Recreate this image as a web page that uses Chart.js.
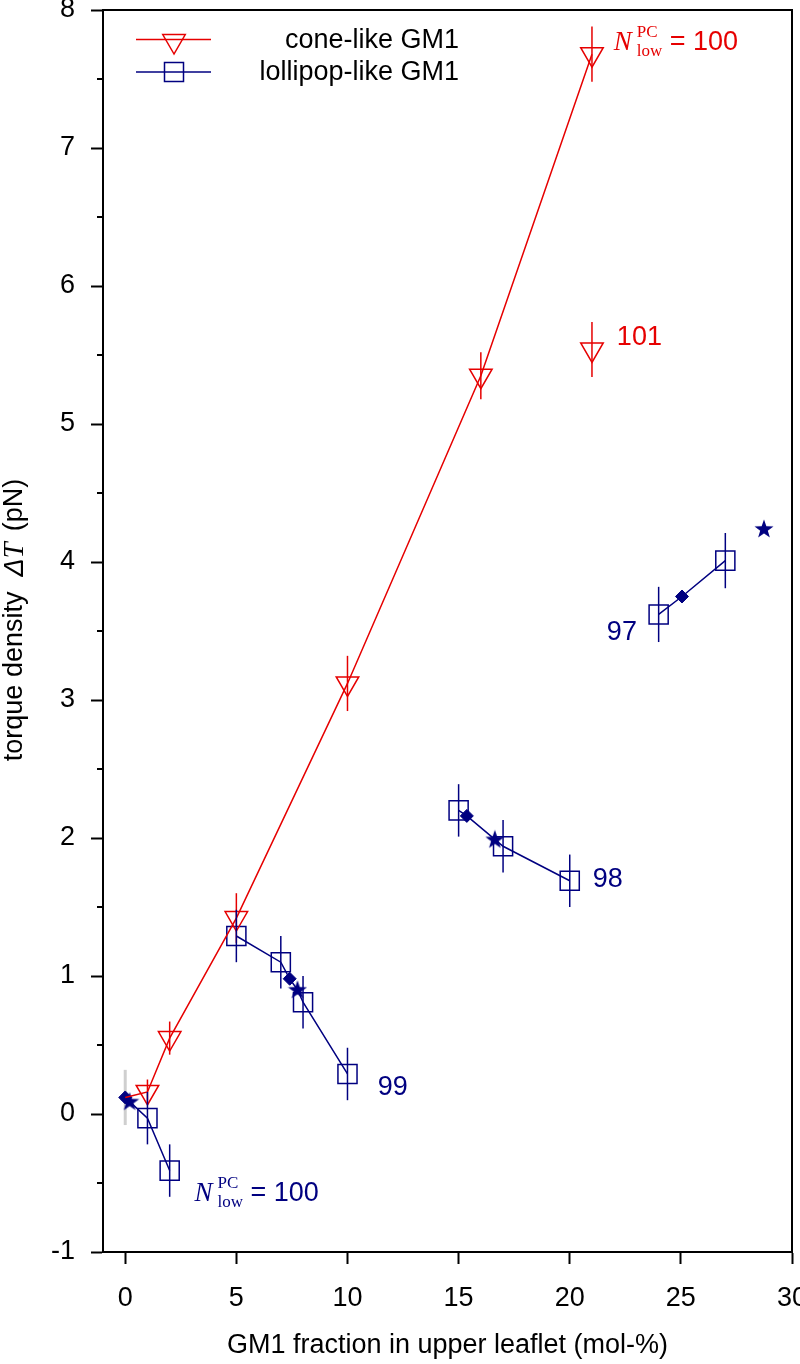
<!DOCTYPE html>
<html>
<head>
<meta charset="utf-8">
<script src="https://cdn.jsdelivr.net/npm/chart.js@4.4.0/dist/chart.umd.min.js"></script>
<style>
  html, body { margin: 0; padding: 0; background: #fff; }
</style>
</head>
<body>
<canvas id="torqueChart" width="800" height="1364"></canvas>
<script>
// values (x: GM1 mol-%, y: torque density pN)
const coneX = [0, 1, 2, 5, 10, 16, 21];
const coneY = [0.12, 0.16, 0.55, 1.42, 3.12, 5.35, 7.68];
const coneErr = [0, 0.09, 0.12, 0.18, 0.2, 0.17, 0.2];

const cone101X = [21];
const cone101Y = [5.54];
const cone101Err = [0.2];

const grayX = [0];
const grayY = [0.12];
const grayErr = [0.2];

const lolli100X = [0, 0.2, 1, 2];
const lolli100Y = [0.12, 0.09, -0.03, -0.41];
const lolli100Err = [0, 0, 0.19, 0.19];
const lolli100Mark = ['diamond', 'star', 'square', 'square'];

const lolli99X = [5, 7, 7.4, 7.75, 8, 10];
const lolli99Y = [1.29, 1.10, 0.98, 0.90, 0.81, 0.29];
const lolli99Err = [0.19, 0.19, 0, 0, 0.19, 0.19];
const lolli99Mark = ['square', 'square', 'diamond', 'star', 'square', 'square'];

const lolli98X = [15, 15.37, 16.63, 17, 20];
const lolli98Y = [2.20, 2.16, 1.99, 1.94, 1.69];
const lolli98Err = [0.19, 0, 0, 0.19, 0.19];
const lolli98Mark = ['square', 'diamond', 'star', 'square', 'square'];

const lolli97X = [24, 25.05, 27];
const lolli97Y = [3.62, 3.75, 4.01];
const lolli97Err = [0.2, 0, 0.2];
const lolli97Mark = ['square', 'diamond', 'square'];

const starX = [28.74];
const starY = [4.24];

const xTickValues = [0, 5, 10, 15, 20, 25, 30];
const yTickValues = [-1, 0, 1, 2, 3, 4, 5, 6, 7, 8];
const yMinorValues = [-0.5, 0.5, 1.5, 2.5, 3.5, 4.5, 5.5, 6.5, 7.5];

const legendLabels = ['cone-like GM1', 'lollipop-like GM1'];
const noteLabels = ['101', '99', '98', '97'];
const noteX = [22.12, 11.36, 21.04, 21.67];
const noteY = [5.63, 0.19, 1.70, 3.49];

const RED = '#e60000';
const NAVY = '#000080';
const SANS = '"Liberation Sans", Arial, sans-serif';
const SERIF = '"Liberation Serif", "Times New Roman", serif';

function pts(xs, ys) {
  return xs.map((x, i) => ({ x: x, y: ys[i] }));
}

function makeStar(size, color) {
  const c = document.createElement('canvas');
  c.width = c.height = size;
  const g = c.getContext('2d');
  const r = size / 2, ri = r * 0.4;
  g.beginPath();
  for (let k = 0; k < 10; k++) {
    const rad = k % 2 ? ri : r;
    const a = -Math.PI / 2 + k * Math.PI / 5;
    g.lineTo(r + rad * Math.cos(a), r * 1.05 + rad * Math.sin(a));
  }
  g.closePath();
  g.fillStyle = color;
  g.fill();
  return c;
}
const starImg = makeStar(20, NAVY);

// square -> hollow rect, diamond -> filled rectRot, star -> filled star image
function lolliSet(xs, ys, errs, marks) {
  return {
    data: pts(xs, ys),
    errors: errs,
    borderColor: NAVY,
    borderWidth: 1.5,
    showLine: true,
    pointStyle: marks.map(m => m === 'square' ? 'rect' : m === 'diamond' ? 'rectRot' : starImg),
    pointRadius: marks.map(m => m === 'square' ? 13.5 : m === 'diamond' ? 6.5 : 10),
    pointBorderWidth: marks.map(m => m === 'square' ? 1.5 : 1),
    pointBorderColor: NAVY,
    pointBackgroundColor: marks.map(m => m === 'square' ? 'rgba(0,0,0,0)' : NAVY)
  };
}

function drawErrors(chart, behind) {
  const ctx = chart.ctx;
  const ys = chart.scales.y;
  chart.data.datasets.forEach((ds, i) => {
    if (!ds.errors || !!ds.errorBehind !== behind) return;
    const meta = chart.getDatasetMeta(i);
    ctx.save();
    ctx.strokeStyle = ds.errorColor || ds.borderColor;
    ctx.lineWidth = ds.errorWidth || 1.5;
    meta.data.forEach((pt, j) => {
      const e = ds.errors[j];
      if (!e) return;
      const v = ds.data[j].y;
      ctx.beginPath();
      ctx.moveTo(pt.x, ys.getPixelForValue(v + e));
      ctx.lineTo(pt.x, ys.getPixelForValue(v - e));
      ctx.stroke();
    });
    ctx.restore();
  });
}

const errorBars = {
  id: 'errorBars',
  beforeDatasetsDraw(chart) { drawErrors(chart, true); },
  afterDatasetsDraw(chart) { drawErrors(chart, false); }
};

function triangleDown(ctx, x, y, r) {
  ctx.beginPath();
  ctx.moveTo(x, y + r);
  ctx.lineTo(x - r * 0.866, y - r * 0.5);
  ctx.lineTo(x + r * 0.866, y - r * 0.5);
  ctx.closePath();
  ctx.stroke();
}

const decorations = {
  id: 'decorations',
  afterDraw(chart) {
    const ctx = chart.ctx;
    const a = chart.chartArea;
    const xs = chart.scales.x, ys = chart.scales.y;
    ctx.save();

    // top and right frame
    ctx.strokeStyle = '#000';
    ctx.lineWidth = 2;
    ctx.beginPath();
    ctx.moveTo(a.left, a.top);
    ctx.lineTo(a.right, a.top);
    ctx.lineTo(a.right, a.bottom);
    ctx.stroke();

    // minor y ticks
    yMinorValues.forEach(v => {
      const py = ys.getPixelForValue(v);
      ctx.beginPath();
      ctx.moveTo(a.left - 6, py);
      ctx.lineTo(a.left, py);
      ctx.stroke();
    });

    // legend
    ctx.lineWidth = 1.5;
    ctx.strokeStyle = RED;
    ctx.beginPath(); ctx.moveTo(136, 39.5); ctx.lineTo(211, 39.5); ctx.stroke();
    triangleDown(ctx, 174, 41, 13);
    ctx.strokeStyle = NAVY;
    ctx.beginPath(); ctx.moveTo(136, 72); ctx.lineTo(211, 72); ctx.stroke();
    ctx.strokeRect(164.5, 62.5, 19, 19);
    ctx.fillStyle = '#000';
    ctx.font = '27px ' + SANS;
    ctx.textAlign = 'right';
    ctx.textBaseline = 'middle';
    ctx.fillText(legendLabels[0], 459, 41);
    ctx.fillText(legendLabels[1], 459, 73);

    // x axis title
    ctx.textAlign = 'center';
    ctx.textBaseline = 'alphabetic';
    ctx.fillText('GM1 fraction in upper leaflet (mol-%)', (a.left + a.right) / 2, 1353);

    // y axis title (mixed fonts)
    ctx.save();
    ctx.translate(15, 620);
    ctx.rotate(-Math.PI / 2);
    ctx.textAlign = 'left';
    ctx.textBaseline = 'middle';
    const segs = [
      ['torque density', '27px ' + SANS, 0],
      ['\u0394', 'italic 27px ' + SANS, 15],
      ['T', 'italic 29px ' + SERIF, 0],
      ['(pN)', '27px ' + SANS, 11]
    ];
    let total = 0;
    segs.forEach(s => { ctx.font = s[1]; total += s[2] + ctx.measureText(s[0]).width; });
    let cx = -total / 2;
    segs.forEach(s => {
      ctx.font = s[1];
      cx += s[2];
      ctx.fillText(s[0], cx, 0);
      cx += ctx.measureText(s[0]).width;
    });
    ctx.restore();

    // group labels
    ctx.textAlign = 'left';
    ctx.textBaseline = 'middle';
    ctx.font = '27px ' + SANS;
    noteLabels.forEach((t, i) => {
      ctx.fillStyle = i === 0 ? RED : NAVY;
      ctx.fillText(t, xs.getPixelForValue(noteX[i]), ys.getPixelForValue(noteY[i]));
    });

    // N^PC_low = 100 labels
    [[21.98, 7.713, RED], [3.12, -0.632, NAVY]].forEach(n => {
      const px = xs.getPixelForValue(n[0]);
      const py = ys.getPixelForValue(n[1]);
      ctx.fillStyle = n[2];
      ctx.textBaseline = 'alphabetic';
      ctx.font = 'italic 27px ' + SERIF;
      ctx.fillText('N', px, py);
      ctx.font = '17px ' + SERIF;
      ctx.fillText('PC', px + 23, py - 13);
      ctx.fillText('low', px + 23, py + 6);
      ctx.font = '27px ' + SANS;
      ctx.fillText('= 100', px + 56, py);
    });

    ctx.restore();
  }
};

const tickFont = { family: SANS, size: 27 };

new Chart(document.getElementById('torqueChart'), {
  type: 'scatter',
  data: {
    datasets: [
      {
        data: pts(grayX, grayY),
        errors: grayErr,
        errorBehind: true,
        errorColor: '#cfcfcf',
        errorWidth: 3,
        borderColor: '#cfcfcf',
        pointRadius: 0,
        showLine: false
      },
      {
        data: pts(coneX, coneY),
        errors: coneErr,
        borderColor: RED,
        borderWidth: 1.5,
        showLine: true,
        pointStyle: 'triangle',
        rotation: 180,
        pointRadius: coneX.map((x, i) => i === 0 ? 0 : 13),
        pointBorderColor: RED,
        pointBorderWidth: 1.5,
        pointBackgroundColor: 'rgba(0,0,0,0)'
      },
      {
        data: pts(cone101X, cone101Y),
        errors: cone101Err,
        borderColor: RED,
        showLine: false,
        pointStyle: 'triangle',
        rotation: 180,
        pointRadius: 13,
        pointBorderColor: RED,
        pointBorderWidth: 1.5,
        pointBackgroundColor: 'rgba(0,0,0,0)'
      },
      lolliSet(lolli100X, lolli100Y, lolli100Err, lolli100Mark),
      lolliSet(lolli99X, lolli99Y, lolli99Err, lolli99Mark),
      lolliSet(lolli98X, lolli98Y, lolli98Err, lolli98Mark),
      lolliSet(lolli97X, lolli97Y, lolli97Err, lolli97Mark),
      {
        data: pts(starX, starY),
        showLine: false,
        pointStyle: starImg,
        pointRadius: 10
      }
    ]
  },
  options: {
    responsive: false,
    animation: false,
    events: [],
    layout: { autoPadding: false, padding: { top: 10, right: 8, left: 0, bottom: 0 } },
    plugins: {
      legend: { display: false },
      tooltip: { enabled: false }
    },
    scales: {
      x: {
        type: 'linear',
        min: -1,
        max: 30,
        afterBuildTicks: s => { s.ticks = xTickValues.map(v => ({ value: v })); },
        afterFit: s => { s.height = 112; s.paddingLeft = 0; s.paddingRight = 0; },
        grid: { drawOnChartArea: false, tickLength: 12, tickColor: '#000', tickWidth: 2 },
        border: { color: '#000', width: 2 },
        ticks: { color: '#000', font: tickFont, padding: 18, maxRotation: 0, autoSkip: false }
      },
      y: {
        type: 'linear',
        min: -1,
        max: 8,
        afterBuildTicks: s => { s.ticks = yTickValues.map(v => ({ value: v })); },
        afterFit: s => { s.width = 103; s.paddingTop = 0; s.paddingBottom = 0; },
        grid: { drawOnChartArea: false, tickLength: 12, tickColor: '#000', tickWidth: 2 },
        border: { color: '#000', width: 2 },
        ticks: { color: '#000', font: tickFont, padding: 16, autoSkip: false }
      }
    }
  },
  plugins: [errorBars, decorations]
});
</script>
</body>
</html>
